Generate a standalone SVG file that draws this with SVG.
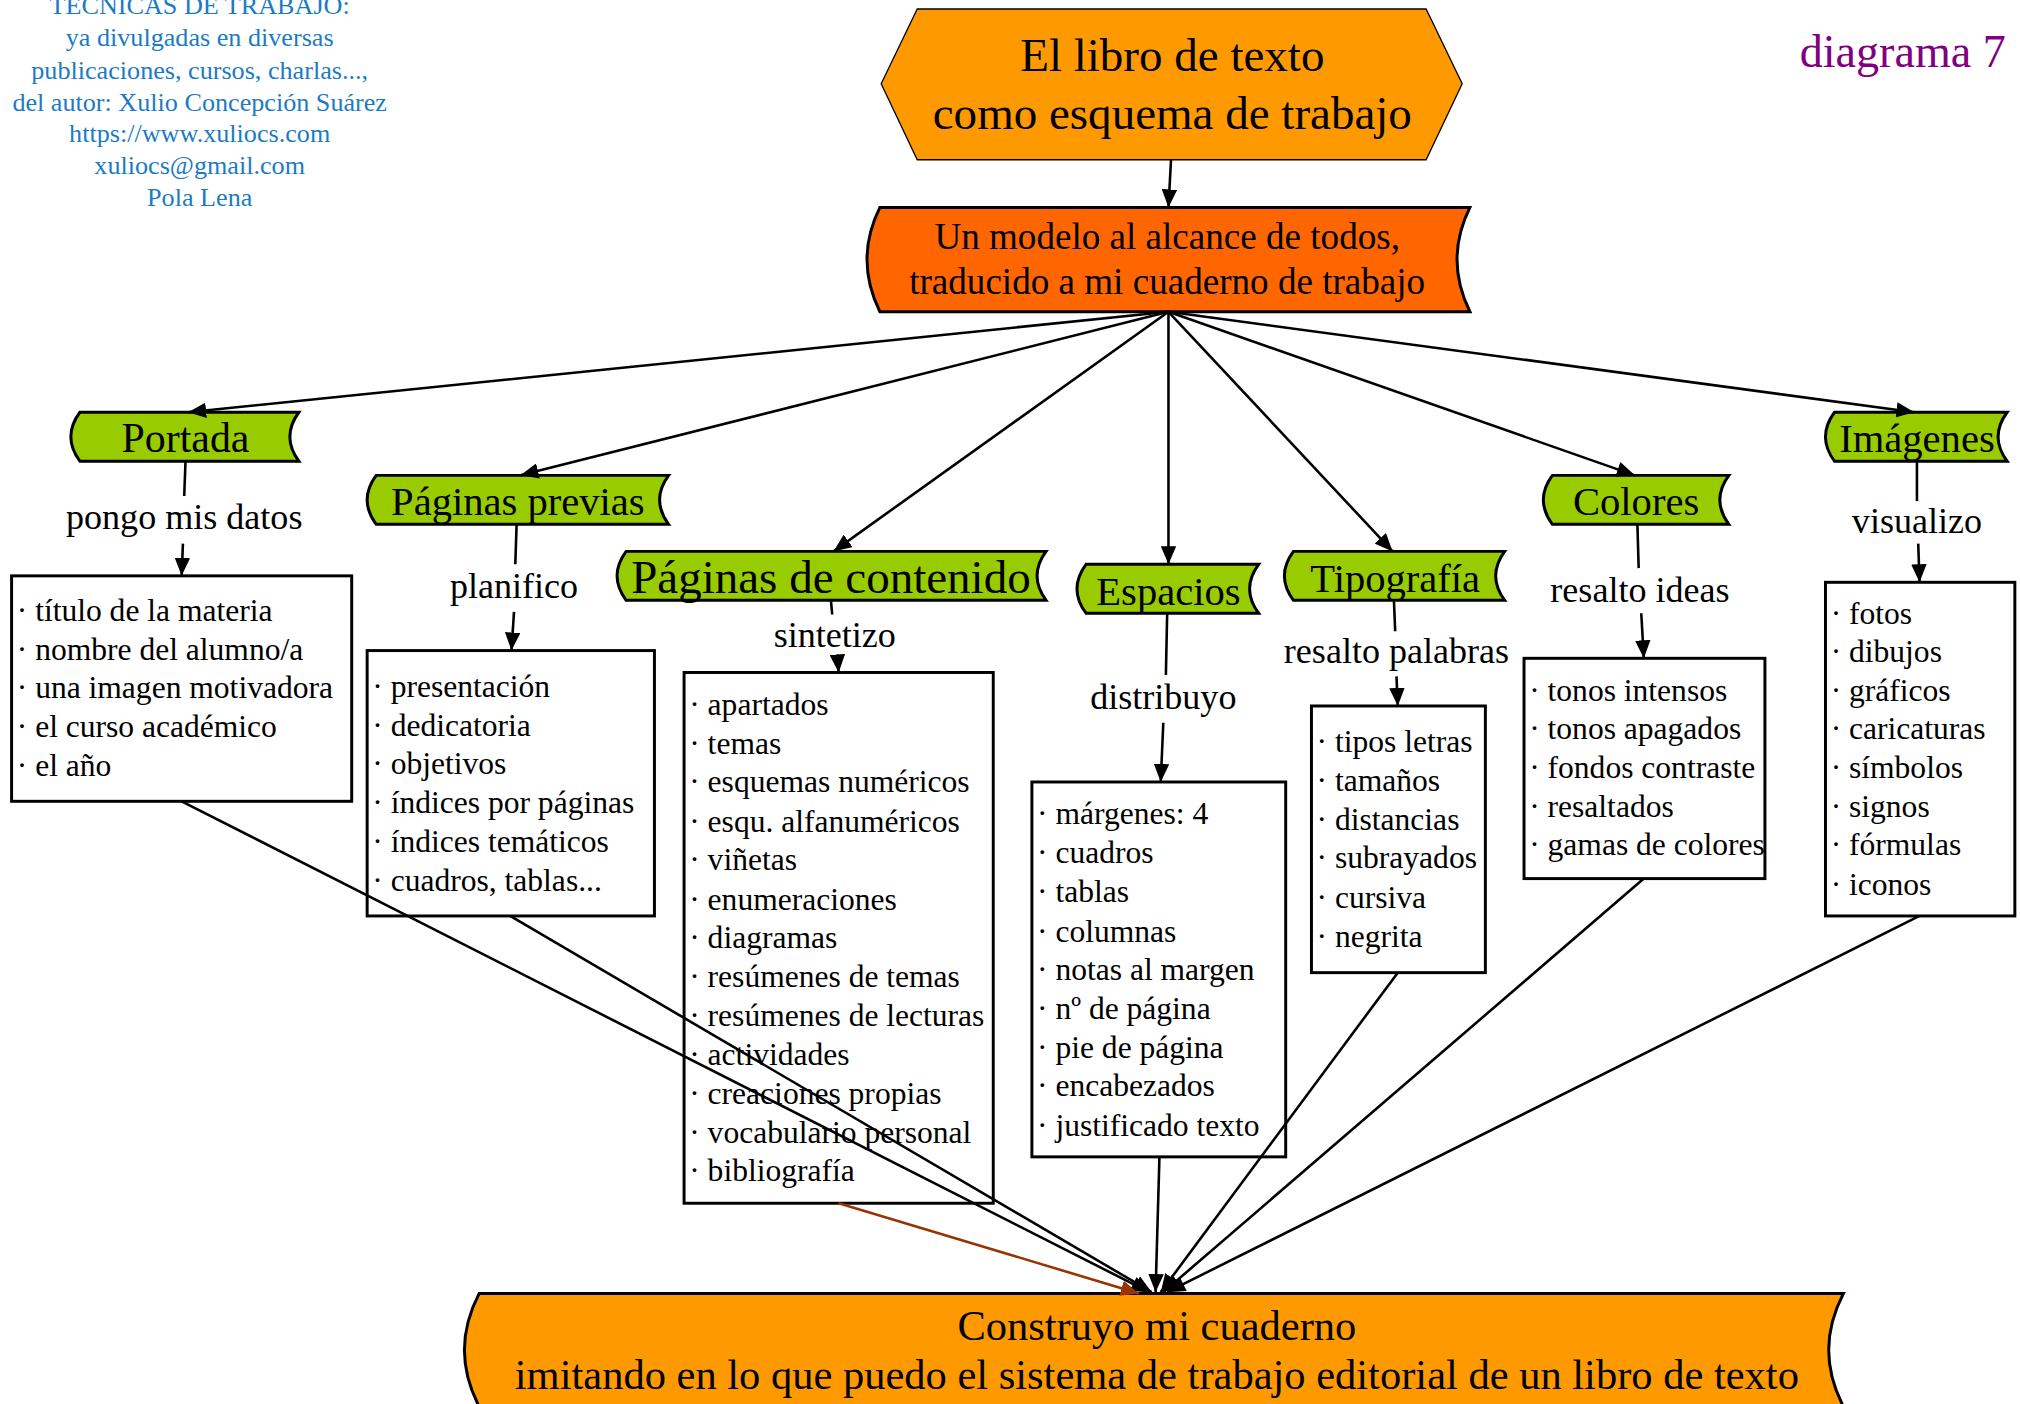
<svg xmlns="http://www.w3.org/2000/svg" width="2020" height="1404" viewBox="0 0 2020 1404">
<style>
text{font-family:"Liberation Serif","Times New Roman",serif;fill:#000}
.item{font-size:24.5px}
.lbl{font-size:28px;text-anchor:middle}
.gt{font-size:31.5px;text-anchor:middle}
.box{fill:#fff;stroke:#000;stroke-width:2.3}
.green{fill:#99CC00;stroke:#000;stroke-width:2.3}
.e{stroke:#000;stroke-width:2;fill:none}
.ea{stroke:#000;stroke-width:2;fill:none;marker-end:url(#ah)}
.eb{stroke:#993300;stroke-width:2;fill:none;marker-end:url(#ahb)}
.info{font-size:20.3px;fill:#1b7bc4;text-anchor:middle}
</style>
<defs>
<marker id="ah" markerUnits="userSpaceOnUse" markerWidth="14" markerHeight="12" refX="14" refY="6" orient="auto"><path d="M0,0 L14,6 L0,12 Z" fill="#000"/></marker>
<marker id="ahb" markerUnits="userSpaceOnUse" markerWidth="14" markerHeight="12" refX="14" refY="6" orient="auto"><path d="M0,0 L14,6 L0,12 Z" fill="#993300"/></marker>
</defs>
<rect width="2020" height="1404" fill="#fff"/>
<g transform="scale(1.28827)">
<g id="info">
<text class="info" x="155" y="11">TÉCNICAS DE TRABAJO:</text>
<text class="info" x="155" y="36">ya divulgadas en diversas</text>
<text class="info" x="155" y="61">publicaciones, cursos, charlas...,</text>
<text class="info" x="155" y="86">del autor: Xulio Concepción Suárez</text>
<text class="info" x="155" y="110.5">https://www.xuliocs.com</text>
<text class="info" x="155" y="135">xuliocs@gmail.com</text>
<text class="info" x="155" y="160">Pola Lena</text>
</g>
<g id="diagrama7">
<text x="1557" y="52" style="font-size:35.8px;fill:#800080;text-anchor:end">diagrama 7</text>
</g>

<g id="titulo">
<polygon points="684,65 712,7 1107,7 1135,65 1107,124 712,124" fill="#FF9900" stroke="#000" stroke-width="1"/>
<text x="910" y="55" style="font-size:36.5px;text-anchor:middle">El libro de texto</text>
<text x="910" y="100" style="font-size:36.5px;text-anchor:middle">como esquema de trabajo</text>
</g>

<g id="modelo">
<path d="M683,161 L1141,161 Q1121,201.5 1141,242 L683,242 Q663,201.5 683,161 Z" fill="#FF6600" stroke="#000" stroke-width="2.3"/>
<text x="906" y="193" style="font-size:28.8px;text-anchor:middle">Un modelo al alcance de todos,</text>
<text x="906" y="228" style="font-size:28.8px;text-anchor:middle">traducido a mi cuaderno de trabajo</text>
</g>

<g id="portada">
<path class="green" d="M62,320 L232,320 Q218,339 232,358 L62,358 Q48,339 62,320 Z"/>
<text class="gt" x="144" y="351" style="font-size:32.5px">Portada</text>
</g>
<g id="previas">
<path class="green" d="M292,369 L519,369 Q505,388 519,407 L292,407 Q278,388 292,369 Z"/>
<text class="gt" x="402" y="399.5">Páginas previas</text>
</g>
<g id="contenido">
<path class="green" d="M486,428 L812,428 Q798,447 812,466 L486,466 Q472,447 486,428 Z"/>
<text class="gt" x="645" y="460" style="font-size:36.5px">Páginas de contenido</text>
</g>
<g id="espacios">
<path class="green" d="M843,438 L977,438 Q963,457 977,476 L843,476 Q829,457 843,438 Z"/>
<text class="gt" x="907" y="469.5">Espacios</text>
</g>
<g id="tipografia">
<path class="green" d="M1004,428 L1168,428 Q1154,447 1168,466 L1004,466 Q990,447 1004,428 Z"/>
<text class="gt" x="1083" y="459.5">Tipografía</text>
</g>
<g id="colores">
<path class="green" d="M1205,369 L1342,369 Q1328,388 1342,407 L1205,407 Q1191,388 1205,369 Z"/>
<text class="gt" x="1270" y="399.5">Colores</text>
</g>
<g id="imagenes">
<path class="green" d="M1424,320 L1558,320 Q1544,339 1558,358 L1424,358 Q1410,339 1424,320 Z"/>
<text class="gt" x="1488" y="350.5">Imágenes</text>
</g>

<g id="box-portada">
<rect class="box" x="9" y="447" width="264" height="175"/>
<text class="item" x="13" y="482">· título de la materia</text>
<text class="item" x="13" y="512">· nombre del alumno/a</text>
<text class="item" x="13" y="542">· una imagen motivadora</text>
<text class="item" x="13" y="572">· el curso académico</text>
<text class="item" x="13" y="602">· el año</text>
</g>
<g id="box-previas">
<rect class="box" x="285" y="505" width="223" height="206"/>
<text class="item" x="289" y="541">· presentación</text>
<text class="item" x="289" y="571">· dedicatoria</text>
<text class="item" x="289" y="601">· objetivos</text>
<text class="item" x="289" y="631">· índices por páginas</text>
<text class="item" x="289" y="661">· índices temáticos</text>
<text class="item" x="289" y="692">· cuadros, tablas...</text>
</g>
<g id="box-contenido">
<rect class="box" x="531" y="522" width="240" height="412"/>
<text class="item" x="535" y="555">· apartados</text>
<text class="item" x="535" y="585">· temas</text>
<text class="item" x="535" y="615">· esquemas numéricos</text>
<text class="item" x="535" y="645.5">· esqu. alfanuméricos</text>
<text class="item" x="535" y="675.5">· viñetas</text>
<text class="item" x="535" y="706">· enumeraciones</text>
<text class="item" x="535" y="736">· diagramas</text>
<text class="item" x="535" y="766">· resúmenes de temas</text>
<text class="item" x="535" y="796.5">· resúmenes de lecturas</text>
<text class="item" x="535" y="826.5">· actividades</text>
<text class="item" x="535" y="857">· creaciones propias</text>
<text class="item" x="535" y="887">· vocabulario personal</text>
<text class="item" x="535" y="917">· bibliografía</text>
</g>
<g id="box-espacios">
<rect class="box" x="801" y="607" width="197" height="291"/>
<text class="item" x="805" y="640">· márgenes: 4</text>
<text class="item" x="805" y="670">· cuadros</text>
<text class="item" x="805" y="700">· tablas</text>
<text class="item" x="805" y="731">· columnas</text>
<text class="item" x="805" y="761">· notas al margen</text>
<text class="item" x="805" y="791">· nº de página</text>
<text class="item" x="805" y="821">· pie de página</text>
<text class="item" x="805" y="851">· encabezados</text>
<text class="item" x="805" y="882">· justificado texto</text>
</g>
<g id="box-tipografia">
<rect class="box" x="1018" y="548" width="135" height="207"/>
<text class="item" x="1022" y="584">· tipos letras</text>
<text class="item" x="1022" y="614">· tamaños</text>
<text class="item" x="1022" y="644">· distancias</text>
<text class="item" x="1022" y="674">· subrayados</text>
<text class="item" x="1022" y="705">· cursiva</text>
<text class="item" x="1022" y="735">· negrita</text>
</g>
<g id="box-colores">
<rect class="box" x="1183" y="511" width="187" height="171"/>
<text class="item" x="1187" y="544">· tonos intensos</text>
<text class="item" x="1187" y="574">· tonos apagados</text>
<text class="item" x="1187" y="604">· fondos contraste</text>
<text class="item" x="1187" y="634">· resaltados</text>
<text class="item" x="1187" y="664">· gamas de colores</text>
</g>
<g id="box-imagenes">
<rect class="box" x="1417" y="452" width="147" height="259"/>
<text class="item" x="1421" y="484">· fotos</text>
<text class="item" x="1421" y="514">· dibujos</text>
<text class="item" x="1421" y="544">· gráficos</text>
<text class="item" x="1421" y="574">· caricaturas</text>
<text class="item" x="1421" y="604">· símbolos</text>
<text class="item" x="1421" y="634">· signos</text>
<text class="item" x="1421" y="664">· fórmulas</text>
<text class="item" x="1421" y="695">· iconos</text>
</g>

<g id="cuaderno">
<path d="M372,1004 L1431,1004 Q1408,1048 1431,1092 L372,1092 Q349,1048 372,1004 Z" fill="#FF9900" stroke="#000" stroke-width="2.3"/>
<text x="898" y="1040" style="font-size:33px;text-anchor:middle">Construyo mi cuaderno</text>
<text x="898" y="1078" style="font-size:33px;text-anchor:middle">imitando en lo que puedo el sistema de trabajo editorial de un libro de texto</text>
</g>

<g id="connectors">
<line class="ea" x1="909" y1="124" x2="907" y2="161"/>
<line class="ea" x1="907" y1="242" x2="146" y2="320"/>
<line class="ea" x1="907" y1="242" x2="404" y2="369"/>
<line class="ea" x1="907" y1="242" x2="647" y2="428"/>
<line class="ea" x1="907" y1="242" x2="907" y2="438"/>
<line class="ea" x1="907" y1="242" x2="1081" y2="428"/>
<line class="ea" x1="907" y1="242" x2="1269" y2="369"/>
<line class="ea" x1="907" y1="242" x2="1486" y2="320"/>

<line class="e" x1="144" y1="358" x2="143" y2="385"/>
<line class="ea" x1="142" y1="422" x2="141" y2="447"/>
<line class="e" x1="401" y1="407" x2="400" y2="438"/>
<line class="ea" x1="399" y1="475" x2="397" y2="505"/>
<line class="e" x1="645" y1="466" x2="646" y2="477"/>
<line class="ea" x1="650" y1="508" x2="651" y2="522"/>
<line class="e" x1="906" y1="476" x2="905" y2="524"/>
<line class="ea" x1="903" y1="561" x2="901" y2="607"/>
<line class="e" x1="1082" y1="466" x2="1083" y2="490"/>
<line class="ea" x1="1084" y1="525" x2="1085" y2="548"/>
<line class="e" x1="1271" y1="407" x2="1272" y2="441"/>
<line class="ea" x1="1274" y1="476" x2="1276" y2="511"/>
<line class="e" x1="1488" y1="358" x2="1488" y2="389"/>
<line class="ea" x1="1489" y1="422" x2="1490" y2="452"/>

<line class="ea" x1="141" y1="622" x2="892" y2="1003"/>
<line class="ea" x1="396" y1="711" x2="894" y2="1003"/>
<line class="eb" x1="651" y1="934" x2="884" y2="1004"/>
<line class="ea" x1="900" y1="898" x2="897" y2="1003"/>
<line class="ea" x1="1085" y1="755" x2="901" y2="1003"/>
<line class="ea" x1="1276" y1="682" x2="903" y2="1003"/>
<line class="ea" x1="1490" y1="711" x2="906" y2="1003"/>

<text class="lbl" x="143" y="411">pongo mis datos</text>
<text class="lbl" x="399" y="464">planifico</text>
<text class="lbl" x="648" y="502">sintetizo</text>
<text class="lbl" x="903" y="550">distribuyo</text>
<text class="lbl" x="1084" y="515">resalto palabras</text>
<text class="lbl" x="1273" y="467">resalto ideas</text>
<text class="lbl" x="1488" y="414">visualizo</text>
</g>
</g>
</svg>
